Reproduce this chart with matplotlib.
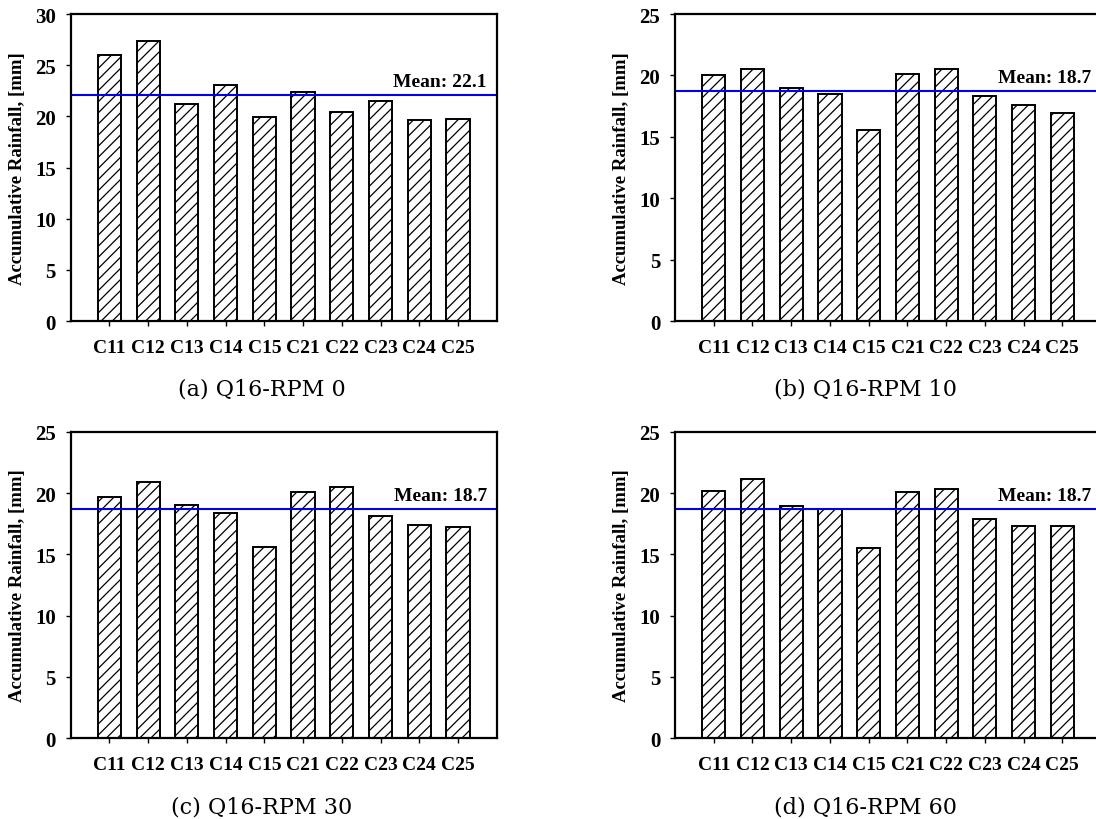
import numpy as np
import matplotlib
matplotlib.use("Agg")
import matplotlib.pyplot as plt

sites = ["C11", "C12", "C13", "C14", "C15", "C21", "C22", "C23", "C24", "C25"]

rain_rpm0 = [26.0, 27.4, 21.2, 23.1, 19.9, 22.4, 20.4, 21.5, 19.6, 19.7]
rain_rpm10 = [20.0, 20.55, 19.0, 18.45, 15.55, 20.1, 20.5, 18.3, 17.55, 16.9]
rain_rpm30 = [19.7, 20.9, 19.0, 18.35, 15.6, 20.05, 20.5, 18.1, 17.4, 17.2]
rain_rpm60 = [20.15, 21.15, 18.95, 18.7, 15.55, 20.1, 20.3, 17.9, 17.35, 17.3]

means = [22.1, 18.7, 18.7, 18.7]
y_max = [30, 25, 25, 25]
captions = ["(a) Q16-RPM 0", "(b) Q16-RPM 10", "(c) Q16-RPM 30", "(d) Q16-RPM 60"]

plt.rcParams["font.family"] = "Liberation Serif"
plt.rcParams["font.weight"] = "bold"
plt.rcParams["hatch.linewidth"] = 0.9

fig = plt.figure(figsize=(10.96, 8.2), dpi=100)

# axes boxes in figure fraction (right column runs slightly past the edge)
boxes = [
    [0.0645, 0.6073, 0.3887, 0.3744],
    [0.6159, 0.6073, 0.3887, 0.3744],
    [0.0645, 0.0984, 0.3887, 0.3739],
    [0.6159, 0.0984, 0.3887, 0.3739],
]
caption_pos = [(262 / 1096, 1 - 390 / 820), (866 / 1096, 1 - 390 / 820),
               (262 / 1096, 1 - 808 / 820), (866 / 1096, 1 - 808 / 820)]

data = [rain_rpm0, rain_rpm10, rain_rpm30, rain_rpm60]
x = np.arange(len(sites))

for i, vals in enumerate(data):
    ax = fig.add_axes(boxes[i])
    ax.bar(x, vals, width=0.6, color="white", edgecolor="black",
           linewidth=1.4, hatch="///")
    ax.axhline(means[i], color="#0000ee", linewidth=1.5)
    ax.annotate(f"Mean: {means[i]:.1f}", xy=(0.977, means[i]),
                xycoords=("axes fraction", "data"), xytext=(0, 6.5),
                textcoords="offset points", ha="right", va="baseline",
                fontsize=14, fontweight="bold")

    ax.set_xlim(-1, 10)
    ax.set_ylim(0, y_max[i])
    ax.set_yticks(np.arange(0, y_max[i] + 1, 5))
    ax.set_xticks(x)
    ax.set_xticklabels(sites)
    ax.tick_params(axis="x", direction="out", length=3.6, width=1,
                   labelsize=14, pad=9, top=False)
    ax.tick_params(axis="y", direction="out", length=3.6, width=1,
                   labelsize=15, pad=7, right=False)
    for s in ax.spines.values():
        s.set_linewidth(1.6)

    ax.set_ylabel("Accumulative Rainfall, [mm]", fontsize=13.5, fontweight="bold")
    ax.yaxis.set_label_coords(-0.105, 0.5)

    fig.text(caption_pos[i][0], caption_pos[i][1], captions[i],
             ha="center", va="center", fontsize=16, fontweight="normal",
             family="DejaVu Serif")

fig.savefig("out.png", dpi=100)
